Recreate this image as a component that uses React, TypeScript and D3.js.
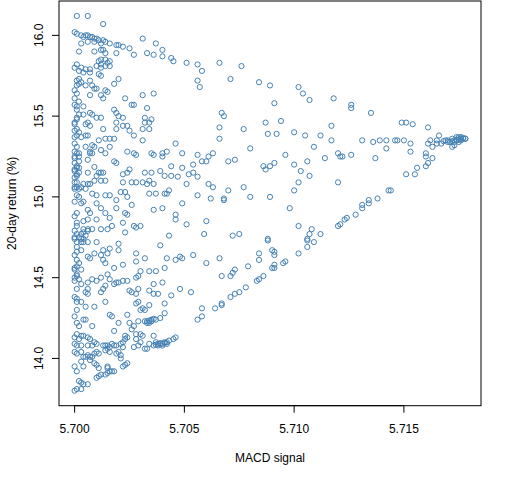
import React from "react";
import * as d3 from "d3";

// [MACD signal, 20-day return %]
const upperEdge: [number, number][] = [
  [5.7001,16.12],[5.7006,16.12],[5.7013,16.07],[5.7000,16.02],[5.7001,16.01],[5.7003,16.0],[5.7004,15.99],[5.7005,16.0],
  [5.7006,16.0],[5.7007,15.99],[5.7008,15.99],[5.7009,15.98],[5.701,15.98],[5.7011,15.97],[5.7013,15.97],[5.7014,15.96],
  [5.7003,15.95],[5.7006,15.96],[5.7009,15.96],[5.7012,15.95],[5.7016,15.95],[5.702,15.94],[5.7022,15.93],[5.7025,15.92],
  [5.7027,15.88],[5.7031,15.98],[5.7033,15.89],[5.7037,15.95],[5.7036,15.88],[5.704,15.91],[5.704,15.87],[5.7044,15.86],
  [5.7045,15.84],[5.7051,15.83],[5.7056,15.82],[5.7058,15.78],[5.7056,15.72],[5.7057,15.68],[5.7066,15.83],[5.7076,15.81],
  [5.7071,15.73],[5.7084,15.71],[5.7089,15.69],[5.7102,15.68],[5.7104,15.64],[5.7091,15.58],[5.7107,15.6],[5.7118,15.61],
  [5.7126,15.57],[5.7126,15.55],[5.7135,15.52],[5.7019,15.94],
];

const topLeft: [number, number][] = [
  [5.7002,15.9],[5.7009,15.9],[5.7012,15.91],[5.7013,15.91],[5.7014,15.89],[5.7019,15.89],[5.7011,15.84],[5.7012,15.85],
  [5.7014,15.85],[5.7015,15.83],[5.7016,15.84],[5.701,15.81],[5.7012,15.82],[5.7014,15.81],[5.7016,15.81],[5.7012,15.8],
  [5.7,15.8],[5.7002,15.78],[5.7003,15.8],[5.7001,15.82],[5.7005,15.79],[5.7007,15.79],[5.7007,15.77],[5.7004,15.77],
  [5.7001,15.72],[5.7002,15.73],[5.7003,15.71],[5.7001,15.69],[5.7002,15.7],[5.7005,15.69],[5.7007,15.72],[5.7008,15.69],
  [5.7009,15.67],[5.701,15.67],[5.7007,15.63],[5.7,15.66],[5.7011,15.76],[5.7012,15.75],[5.702,15.73],[5.7018,15.7],
  [5.7014,15.66],[5.7015,15.65],[5.7012,15.63],[5.7013,15.61],[5.7023,15.61],[5.7026,15.57],[5.7027,15.57],[5.7031,15.63],
  [5.7036,15.64],[5.7033,15.55],
];

const midUpper: [number, number][] = [
  [5.7002,15.59],[5.7001,15.56],[5.7004,15.56],[5.7001,15.54],[5.7002,15.51],[5.7004,15.51],[5.7018,15.54],[5.7019,15.52],
  [5.702,15.5],[5.7022,15.49],[5.7012,15.49],[5.7007,15.52],[5.7008,15.51],[5.701,15.49],[5.7001,15.48],[5.7,15.46],
  [5.7006,15.46],[5.7007,15.44],[5.7005,15.45],[5.7019,15.46],[5.7022,15.44],[5.7024,15.44],[5.7032,15.49],[5.7035,15.48],
  [5.7032,15.46],[5.7034,15.46],[5.7034,15.42],[5.7031,15.42],[5.7025,15.41],[5.7019,15.42],[5.7013,15.42],[5.7001,15.42],
  [5.7002,15.4],[5.7,15.37],[5.7003,15.37],[5.7005,15.38],[5.7006,15.38],[5.7027,15.38],[5.7031,15.35],[5.7011,15.35],
  [5.7014,15.36],[5.7016,15.36],[5.7018,15.36],[5.7008,15.32],[5.7009,15.31],[5.7005,15.31],[5.7,15.33],[5.7001,15.31],
  [5.7016,15.31],[5.7012,15.29],[5.7007,15.28],[5.7,15.28],[5.7002,15.27],[5.7,15.25],[5.7002,15.25],[5.7007,15.27],
  [5.7008,15.27],[5.7014,15.27],[5.7024,15.28],[5.7027,15.27],[5.7028,15.26],[5.7018,15.22],[5.7019,15.21],[5.7,15.21],
  [5.7002,15.22],[5.7006,15.23],
];

const midLeft: [number, number][] = [
  [5.7009,15.185],[5.7001,15.18],[5.7,15.16],[5.7002,15.15],[5.7006,15.15],[5.7011,15.15],[5.7012,15.15],[5.7013,15.15],
  [5.701,15.13],[5.7014,15.1],[5.7012,15.1],[5.7009,15.1],[5.7001,15.13],[5.7,15.09],[5.7006,15.08],[5.7007,15.08],
  [5.7004,15.08],[5.7,15.06],[5.7001,15.06],[5.7003,15.06],[5.7005,15.05],[5.7008,15.02],[5.701,15.01],[5.7014,15.01],
  [5.7016,15.01],[5.7002,15.0],[5.7,14.97],[5.7003,14.96],[5.7004,14.97],[5.701,14.96],[5.7012,14.93],[5.7006,14.92],
  [5.7001,14.9],[5.7007,14.9],[5.7014,14.9],[5.7016,14.87],[5.7023,14.9],[5.7019,14.93],[5.7019,14.98],[5.7021,15.03],
  [5.7023,15.03],[5.7022,15.09],[5.7022,15.14],[5.7024,15.15],[5.7025,15.17],[5.7026,15.09],[5.7028,15.09],[5.7031,15.09],
  [5.7024,15.0],[5.7026,14.95],[5.7024,14.89],[5.7022,14.84],[5.7004,14.85],[5.7006,14.86],[5.701,14.86],[5.7001,14.82],
  [5.7004,14.8],[5.7006,14.8],[5.7008,14.8],[5.7012,14.8],[5.7015,14.8],[5.7017,14.82],
];

const midCentre: [number, number][] = [
  [5.7066,15.43],[5.7067,15.52],[5.7068,15.5],[5.7066,15.36],[5.7077,15.42],[5.708,15.3],[5.7063,15.27],[5.707,15.22],
  [5.7073,15.23],[5.7061,15.25],[5.706,15.22],[5.7058,15.22],[5.7054,15.2],[5.7054,15.15],[5.7051,15.08],[5.7061,15.08],
  [5.7063,15.06],[5.707,15.04],[5.7077,15.06],[5.708,15.0],[5.7062,14.99],[5.7056,15.01],[5.7068,14.99],[5.7068,14.98],
  [5.706,14.85],[5.7059,14.77],[5.7072,14.76],[5.7075,14.77],[5.7049,14.96],[5.7051,14.83],[5.7046,14.89],[5.7046,14.86],
  [5.7043,14.76],[5.7049,15.18],[5.7046,15.33],[5.7049,15.27],[5.7044,15.13],[5.7044,15.19],[5.7042,15.28],[5.704,15.27],
  [5.704,15.25],[5.7036,15.26],[5.7035,15.27],[5.7039,15.16],[5.7041,15.13],[5.7037,15.02],[5.7041,15.02],[5.7042,15.02],
  [5.7043,15.04],[5.704,14.93],[5.7036,14.92],[5.7034,15.02],[5.7033,15.08],[5.703,14.82],[5.7027,14.82],[5.7028,14.81],
  [5.7023,14.78],[5.7034,15.1],[5.7035,15.15],[5.7032,15.15],[5.7056,15.26],[5.7047,15.125],[5.7052,15.14],[5.7056,15.125],
  [5.7036,15.08],[5.7091,14.56],[5.7041,14.56],
];

const rightSide: [number, number][] = [
  [5.7087,15.46],[5.7094,15.47],[5.7117,15.44],[5.7149,15.46],[5.7151,15.46],[5.7154,15.45],[5.7161,15.43],[5.7088,15.39],
  [5.7092,15.39],[5.71,15.4],[5.7105,15.38],[5.7112,15.38],[5.7117,15.35],[5.7131,15.35],[5.7136,15.34],[5.7139,15.35],
  [5.7142,15.35],[5.7146,15.35],[5.7147,15.35],[5.715,15.35],[5.7153,15.33],[5.7161,15.33],[5.7162,15.35],[5.7165,15.35],
  [5.7166,15.38],[5.7165,15.33],[5.7163,15.31],[5.7167,15.33],[5.717,15.35],[5.7172,15.31],[5.7173,15.32],[5.7175,15.37],
  [5.7178,15.36],[5.7171,15.34],[5.7172,15.345],[5.7173,15.35],[5.7174,15.35],[5.7174,15.355],[5.7175,15.355],[5.7176,15.36],
  [5.7176,15.35],[5.7177,15.36],[5.7177,15.365],[5.7178,15.36],[5.7175,15.34],[5.7173,15.34],[5.717,15.34],[5.7168,15.345],
  [5.7169,15.35],[5.7172,15.36],[5.7174,15.37],[5.7176,15.37],
  [5.7109,15.31],[5.7096,15.26],[5.712,15.27],[5.7121,15.25],[5.7122,15.25],[5.7126,15.26],[5.7142,15.3],[5.7153,15.28],
  [5.716,15.27],[5.716,15.25],[5.7163,15.24],[5.7161,15.21],[5.716,15.19],[5.7156,15.18],[5.7155,15.14],[5.7151,15.14],
  [5.7137,15.24],[5.7114,15.24],[5.7106,15.22],[5.71,15.2],[5.7086,15.19],[5.7087,15.17],[5.7089,15.19],[5.7091,15.21],
  [5.7103,15.16],[5.7107,15.13],[5.7102,15.09],[5.712,15.09],[5.71,15.04],[5.7089,15.0],[5.7098,14.93],[5.7143,15.04],
  [5.7144,15.04],[5.7138,14.99],[5.7134,14.98],[5.7134,14.96],[5.7131,14.95],[5.7131,14.93],[5.7128,14.89],[5.7124,14.87],
  [5.7123,14.86],[5.7121,14.83],[5.712,14.82],[5.7112,14.77],[5.7108,14.8],[5.7107,14.77],[5.7102,14.82],[5.7106,14.74],
  [5.7088,14.74],[5.7088,14.73],[5.7106,14.73],[5.7109,14.72],[5.7106,14.69],[5.7102,14.65],[5.7084,14.65],[5.7084,14.61],
  [5.709,14.67],[5.7091,14.66],[5.7091,14.64],[5.7096,14.6],[5.7095,14.59],[5.7091,14.58],[5.709,14.56],[5.7086,14.51],
  [5.7084,14.49],[5.7083,14.48],
];

const lowerMid: [number, number][] = [
  [5.7001,14.72],[5.7003,14.72],[5.7004,14.72],[5.7006,14.72],[5.701,14.72],[5.7001,14.69],[5.7003,14.67],[5.7006,14.63],
  [5.7007,14.62],[5.7009,14.65],[5.7013,14.67],[5.7015,14.65],[5.7016,14.68],[5.702,14.67],[5.702,14.71],[5.7012,14.64],
  [5.7013,14.61],[5.7014,14.59],[5.7001,14.61],[5.7002,14.59],[5.7,14.56],[5.7003,14.55],[5.7001,14.52],[5.7,14.5],
  [5.7002,14.49],[5.7006,14.47],[5.7003,14.46],[5.7001,14.43],[5.7006,14.43],[5.7008,14.49],[5.701,14.48],[5.7012,14.5],
  [5.7014,14.45],[5.7015,14.52],[5.7016,14.49],[5.7018,14.56],[5.7022,14.58],[5.7018,14.46],[5.7019,14.47],[5.702,14.47],
  [5.7022,14.48],[5.7024,14.48],[5.7028,14.6],[5.7028,14.65],[5.7032,14.62],[5.7039,14.7],[5.7042,14.62],[5.7046,14.61],
  [5.7048,14.63],[5.7049,14.62],[5.7054,14.64],[5.706,14.59],[5.7066,14.62],[5.7067,14.51],[5.7071,14.51],[5.7072,14.53],
  [5.7073,14.55],[5.7079,14.57],
  [5.7078,14.44],[5.7075,14.41],[5.7073,14.4],[5.7071,14.38],[5.7067,14.34],[5.7067,14.33],[5.7064,14.31],[5.7058,14.31],
  [5.7058,14.26],[5.7056,14.24],[5.7053,14.41],[5.7048,14.43],[5.7044,14.39],[5.7041,14.34],[5.7041,14.28],[5.7039,14.25],
  [5.7037,14.24],[5.7032,14.23],[5.7033,14.23],[5.7034,14.235],[5.7035,14.24],[5.7036,14.245],[5.7034,14.22],[5.7033,14.22],
  [5.7035,14.23],[5.7038,14.4],[5.7036,14.4],[5.7034,14.42],[5.7036,14.46],[5.704,14.47],[5.7034,14.54],[5.7037,14.54],
  [5.703,14.54],[5.7028,14.5],[5.7029,14.51],[5.7028,14.4],[5.7029,14.43],[5.7028,14.34],[5.7029,14.35],[5.703,14.3],
  [5.7031,14.31],[5.7032,14.3],[5.7034,14.33],[5.7029,14.23],[5.7027,14.2],[5.7026,14.18],[5.7025,14.22],[5.7023,14.14],
  [5.7023,14.12],[5.7024,14.13],[5.7025,14.42],[5.7026,14.41],[5.7024,14.27],[5.702,14.22],[5.7018,14.17],[5.7016,14.27],
  [5.7017,14.26],[5.7014,14.35],[5.7009,14.32],[5.7005,14.32],[5.7004,14.24],[5.7005,14.24],[5.7008,14.2],[5.7002,14.2],
  [5.7001,14.22],[5.7,14.26],[5.7001,14.3],[5.7003,14.35],[5.7001,14.37],[5.7,14.38],[5.7005,14.41],[5.7006,14.4],
  [5.7012,14.41],[5.7013,14.43],
];

const bottom: [number, number][] = [
  [5.7001,14.15],[5.7003,14.14],[5.7,14.13],[5.7002,14.12],[5.7004,14.14],[5.7006,14.13],[5.7007,14.12],[5.7,14.09],
  [5.7001,14.08],[5.7003,14.08],[5.7006,14.08],[5.7009,14.1],[5.701,14.09],[5.7008,14.08],[5.7,14.04],[5.7001,14.03],
  [5.7003,14.04],[5.7004,14.01],[5.7005,14.01],[5.7006,14.02],[5.7007,14.01],[5.7008,14.01],[5.7007,13.99],[5.7009,14.03],
  [5.701,14.04],[5.7011,14.03],[5.7009,13.97],[5.701,13.96],[5.7011,13.94],[5.7,13.95],[5.7001,13.92],[5.7003,13.98],
  [5.7004,13.95],[5.7002,13.86],[5.7003,13.85],[5.7004,13.84],[5.7006,13.84],[5.7,13.8],[5.7001,13.81],[5.7003,13.81],
  [5.7013,14.08],[5.7014,14.08],[5.7015,14.08],[5.7016,14.07],[5.7015,14.06],[5.7017,14.09],[5.7014,14.05],[5.7016,14.04],
  [5.7018,14.08],[5.7019,14.08],[5.7021,14.09],[5.7022,14.1],[5.702,14.04],[5.7019,14.03],[5.7021,14.02],[5.7022,14.07],
  [5.701,13.88],[5.7011,13.89],[5.7012,13.9],[5.7014,13.9],[5.7015,13.91],[5.7016,13.92],[5.7017,13.92],[5.7015,13.95],
  [5.7015,13.94],[5.7018,13.92],[5.7022,13.95],[5.7023,13.96],[5.7024,13.97],[5.7021,14.0],
  [5.7027,14.07],[5.7029,14.08],[5.7028,14.12],[5.703,14.1],[5.7032,14.06],[5.7033,14.06],[5.7031,14.14],[5.703,14.15],
  [5.7028,14.15],[5.7036,14.08],[5.7038,14.08],[5.7039,14.09],[5.704,14.09],[5.7041,14.1],[5.7042,14.1],[5.7043,14.11],
  [5.7045,14.12],[5.7046,14.13],[5.7038,14.09],[5.704,14.08],[5.7042,14.09],[5.7037,14.1],[5.7036,14.14],[5.7034,14.09],
  [5.7037,14.085],[5.7039,14.095],[5.7041,14.095],
];

const leftColumn: [number, number][] = [
  [5.7,15.57],[5.7001,15.49],[5.7,15.41],[5.7001,15.38],[5.7,15.24],[5.7001,15.19],[5.7,15.17],[5.7001,15.14],
  [5.7,15.12],[5.7001,15.09],[5.7,15.05],[5.7001,15.01],[5.7,14.88],[5.7001,14.84],[5.7,14.79],[5.7001,14.77],
  [5.7,14.75],[5.7,14.74],[5.7001,14.66],[5.7,14.64],[5.7001,14.57],[5.7,14.55],[5.7001,14.51],[5.7,14.48],
  [5.7001,14.35],[5.7002,14.75],[5.7003,14.77],[5.7004,14.78],[5.7005,14.76],[5.7006,14.79],[5.7003,14.74],[5.7004,14.74],
  [5.7002,15.05],[5.7001,15.27],[5.7002,15.18],[5.7,15.45],[5.7001,15.64],[5.7,15.61],
];

const xTicks = [5.7, 5.705, 5.71, 5.715];
const yTicks = [14.0, 14.5, 15.0, 15.5, 16.0];

const points = [
  ...upperEdge, ...topLeft, ...midUpper, ...midLeft, ...midCentre,
  ...rightSide, ...lowerMid, ...bottom, ...leftColumn,
];

const W = 512;
const H = 480;
const plot = { left: 59, right: 481, top: 1, bottom: 405.7 };
const font = "'Liberation Sans', Arial, sans-serif";

// R-style 4% padding on the data range
const pad = (ext: [number, number]): [number, number] => {
  const d = (ext[1] - ext[0]) * 0.04;
  return [ext[0] - d, ext[1] + d];
};

export default function App() {
  const xExt = d3.extent(points, (p) => p[0]) as [number, number];
  const yExt = d3.extent(points, (p) => p[1]) as [number, number];
  const x = d3.scaleLinear().domain(pad(xExt)).range([plot.left, plot.right]);
  const y = d3.scaleLinear().domain(pad(yExt)).range([plot.bottom, plot.top]);

  return (
    <svg
      width={W}
      height={H}
      style={{ position: "absolute", left: 0, top: 0, background: "#fff" }}
      fontFamily={font}
      fontSize={12}
    >
      <rect width={W} height={H} fill="#fff" />
      {points.map((p, i) => (
        <circle
          key={i}
          cx={x(p[0])}
          cy={y(p[1])}
          r={2.6}
          fill="none"
          stroke="steelblue"
          strokeWidth={1}
        />
      ))}
      <rect
        x={plot.left}
        y={plot.top}
        width={plot.right - plot.left}
        height={plot.bottom - plot.top}
        fill="none"
        stroke="#000"
        strokeWidth={1}
      />
      {/* x axis */}
      <line x1={x(xTicks[0])} x2={x(xTicks[xTicks.length - 1])} y1={plot.bottom} y2={plot.bottom} stroke="#000" />
      {xTicks.map((t) => (
        <g key={t}>
          <line x1={x(t)} x2={x(t)} y1={plot.bottom} y2={plot.bottom + 7} stroke="#000" />
          <text x={x(t)} y={433} textAnchor="middle">{d3.format(".3f")(t)}</text>
        </g>
      ))}
      {/* y axis */}
      {yTicks.map((t) => (
        <g key={t}>
          <line x1={plot.left - 7} x2={plot.left} y1={y(t)} y2={y(t)} stroke="#000" />
          <text
            transform={`translate(${43},${y(t)}) rotate(-90)`}
            textAnchor="middle"
          >
            {d3.format(".1f")(t)}
          </text>
        </g>
      ))}
      <text x={(plot.left + plot.right) / 2} y={462} textAnchor="middle">MACD signal</text>
      <text
        transform={`translate(${16},${(plot.top + plot.bottom) / 2}) rotate(-90)`}
        textAnchor="middle"
      >
        20-day return (%)
      </text>
    </svg>
  );
}
